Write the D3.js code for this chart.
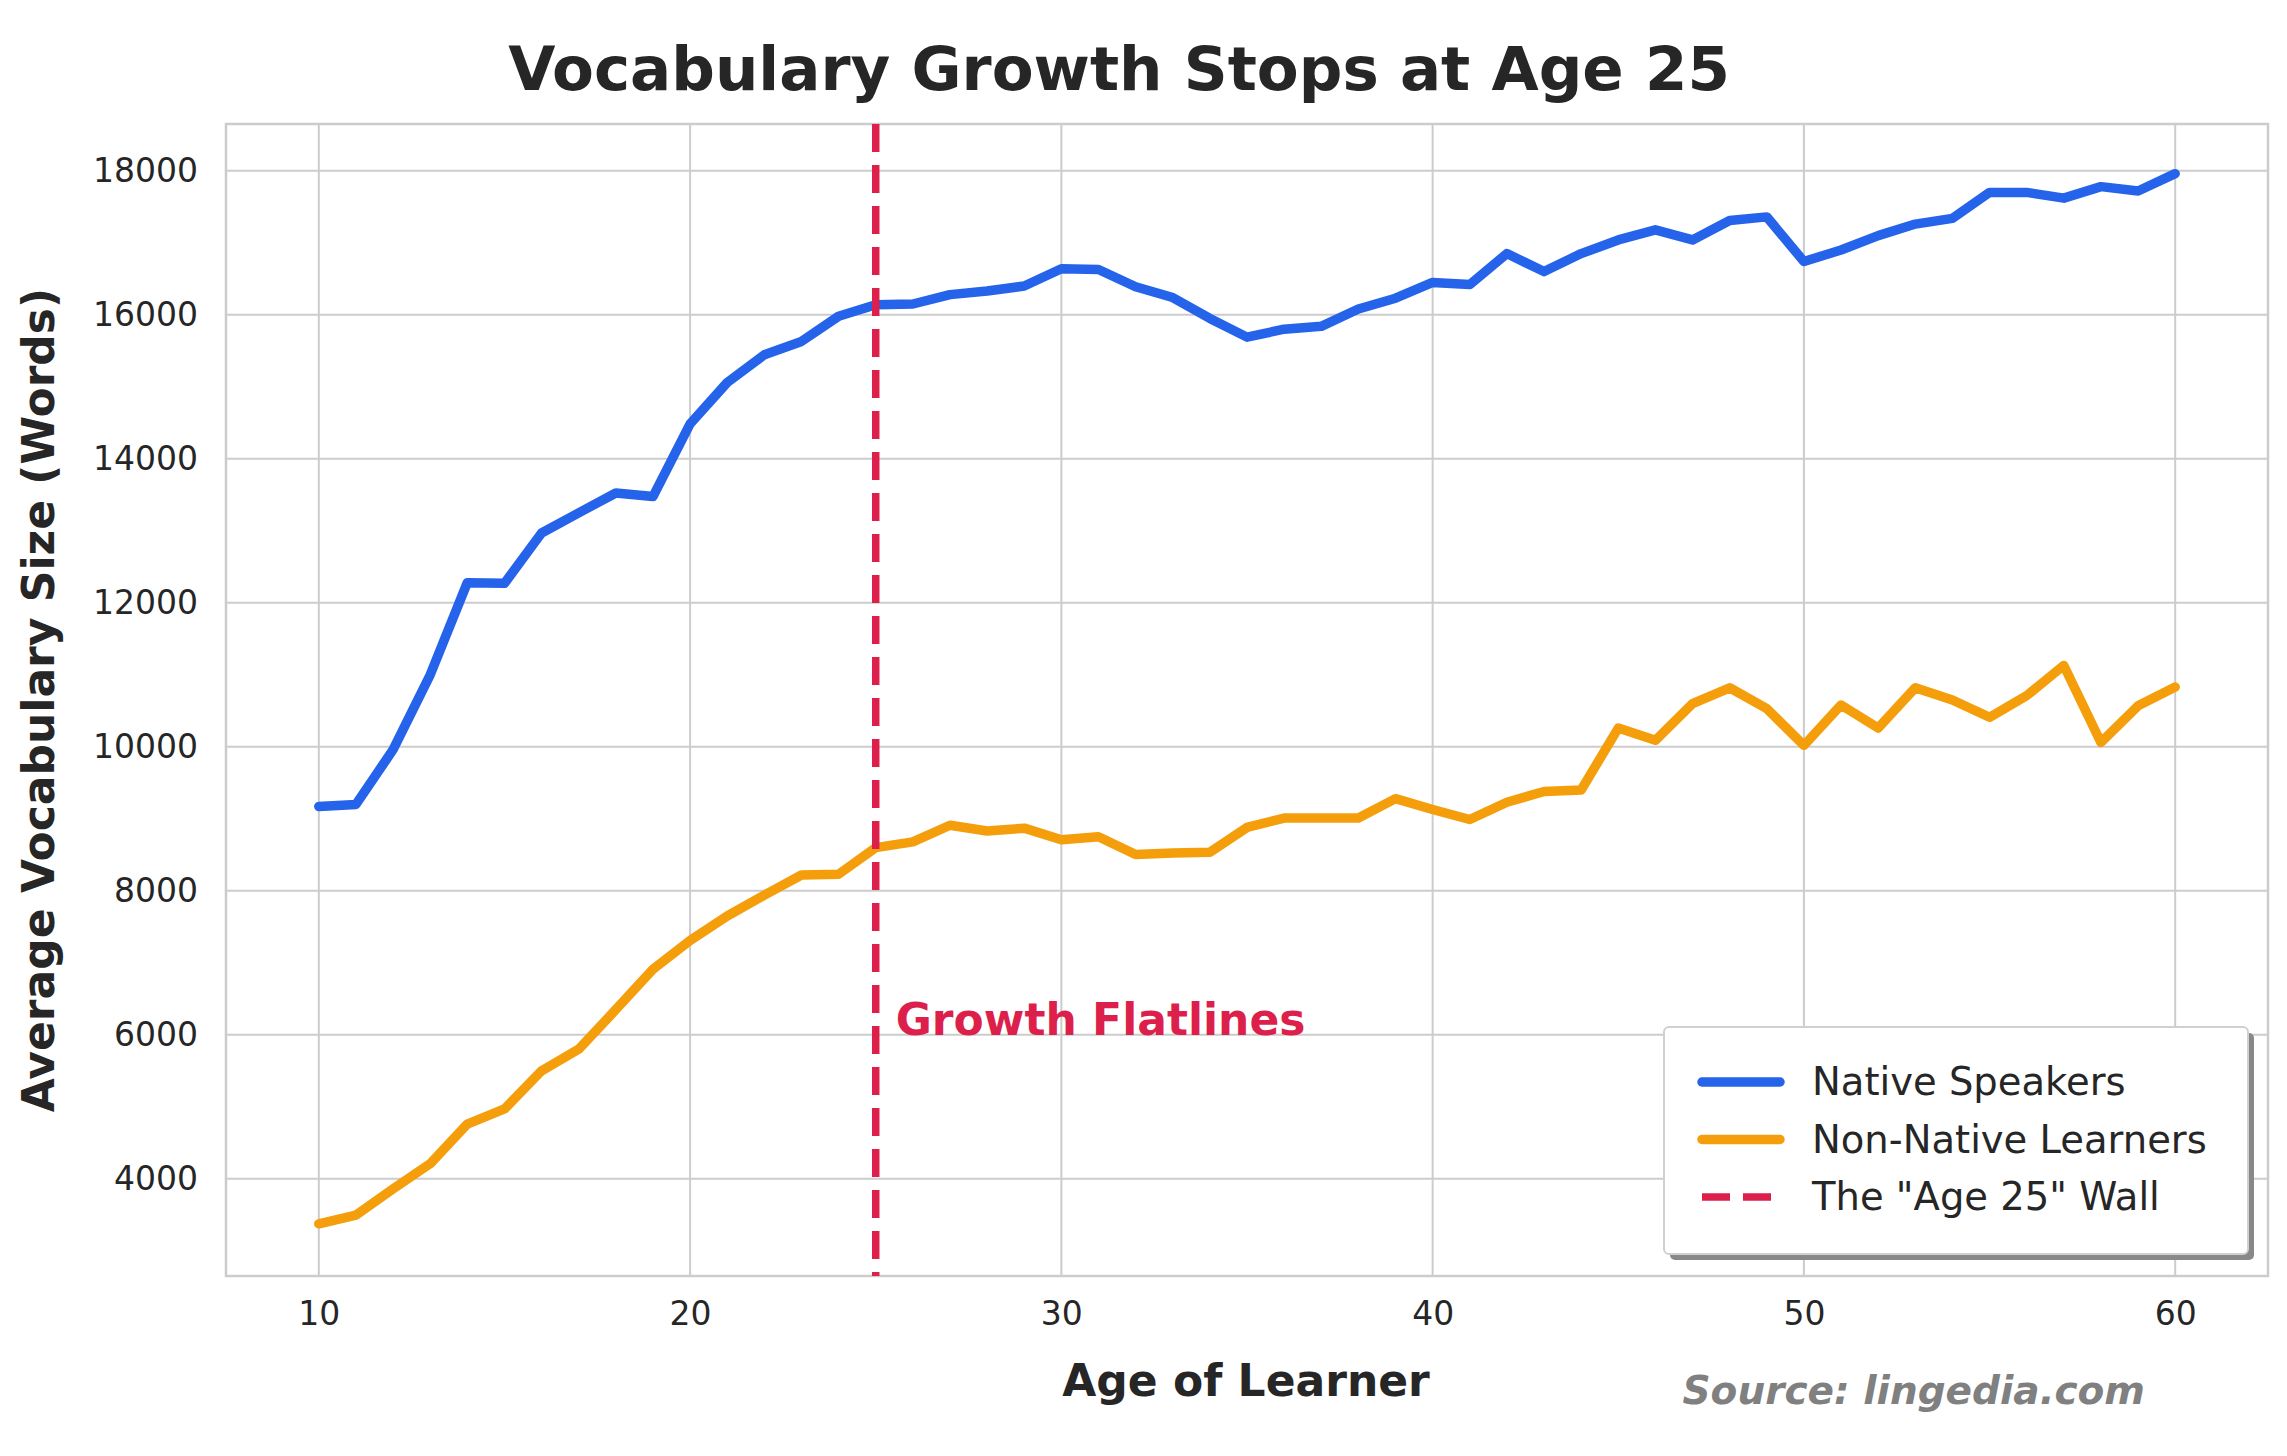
<!DOCTYPE html>
<html><head><meta charset="utf-8">
<script src="https://cdn.jsdelivr.net/npm/d3@7"></script>
<style>body{margin:0;background:#fff}svg{display:block}text{font-family:"DejaVu Sans",sans-serif;fill:#262626}</style>
</head><body><svg id="c" width="2287" height="1456"></svg>
<script>
const ages = d3.range(10, 61);
const native = [9172,9200,9960,11000,12280,12270,12970,13250,13525,13475,14485,15060,15445,15630,15980,16140,16150,16280,16330,16400,16640,16630,16390,16240,15950,15690,15800,15840,16080,16230,16450,16420,16850,16600,16850,17040,17180,17040,17310,17360,16740,16900,17100,17260,17340,17700,17700,17620,17780,17720,17960];
const nonNative = [3375,3495,3860,4210,4760,4970,5500,5800,6350,6910,7310,7650,7940,8220,8230,8600,8680,8910,8830,8870,8710,8750,8505,8525,8535,8880,9010,9010,9010,9280,9130,8990,9230,9380,9400,10260,10090,10600,10820,10530,10020,10580,10260,10820,10650,10410,10710,11130,10060,10570,10830];
const xTicks = [10,20,30,40,50,60];
const yTicks = [4000,6000,8000,10000,12000,14000,16000,18000];
const wallAge = 25;
const seriesNames = ["Native Speakers","Non-Native Learners",'The "Age 25" Wall'];
const colors = ["#2563eb","#f59e0b","#dc1f4b"];

const L=226,R=2268,T=124,B=1276;
const svg=d3.select("#c");
const x=d3.scaleLinear().domain([7.5,62.5]).range([L,R]);
const y=d3.scaleLinear().domain([2650,18650]).range([B,T]);
const g=svg.append("g");
g.selectAll(".gx").data(xTicks).join("line").attr("x1",d=>x(d)).attr("x2",d=>x(d)).attr("y1",T).attr("y2",B).attr("stroke","#cccccc").attr("stroke-width",2);
g.selectAll(".gy").data(yTicks).join("line").attr("y1",d=>y(d)).attr("y2",d=>y(d)).attr("x1",L).attr("x2",R).attr("stroke","#cccccc").attr("stroke-width",2);
g.append("rect").attr("x",L).attr("y",T).attr("width",R-L).attr("height",B-T).attr("fill","none").attr("stroke","#cccccc").attr("stroke-width",2.5);
const xa=svg.append("g").attr("transform",`translate(0,${B})`).call(d3.axisBottom(x).tickValues(xTicks).tickSize(0).tickPadding(26));
const ya=svg.append("g").attr("transform",`translate(${L},0)`).call(d3.axisLeft(y).tickValues(yTicks).tickSize(0).tickPadding(28).tickFormat(d3.format("d")));
[xa,ya].forEach(a=>{a.select(".domain").remove();a.selectAll("text").attr("font-size",33).attr("font-family","DejaVu Sans").attr("fill","#262626");});

const line=d3.line().x((d,i)=>x(ages[i])).y(d=>y(d));
svg.append("path").datum(native).attr("d",line).attr("fill","none").attr("stroke",colors[0]).attr("stroke-width",9.5).attr("stroke-linejoin","round").attr("stroke-linecap","round");
svg.append("path").datum(nonNative).attr("d",line).attr("fill","none").attr("stroke",colors[1]).attr("stroke-width",9.5).attr("stroke-linejoin","round").attr("stroke-linecap","round");
svg.append("line").attr("x1",x(wallAge)).attr("x2",x(wallAge)).attr("y1",T).attr("y2",B).attr("stroke",colors[2]).attr("stroke-width",7.5).attr("stroke-dasharray","28 13");
svg.append("text").attr("x",x(wallAge)+20).attr("y",y(6000)+0).attr("font-size",44).attr("font-weight","bold").style("fill",colors[2]).text("Growth Flatlines");

svg.append("text").attr("x",1119).attr("y",90).attr("text-anchor","middle").attr("font-size",61).attr("font-weight","bold").text("Vocabulary Growth Stops at Age 25");
svg.append("text").attr("x",1246).attr("y",1396).attr("text-anchor","middle").attr("font-size",44).attr("font-weight","bold").text("Age of Learner");
svg.append("text").attr("transform","translate(54,700) rotate(-90)").attr("text-anchor","middle").attr("font-size",44).attr("font-weight","bold").text("Average Vocabulary Size (Words)");
svg.append("text").attr("x",2145).attr("y",1404).attr("text-anchor","end").attr("font-size",39).attr("font-weight","bold").attr("font-style","italic").style("fill","#808080").text("Source: lingedia.com");

const lg=svg.append("g");
lg.append("rect").attr("x",1670).attr("y",1033).attr("width",584).attr("height",227).attr("rx",5).attr("fill","#888");
lg.append("rect").attr("x",1664).attr("y",1027).attr("width",584).attr("height",227).attr("rx",5).attr("fill","#fff").attr("stroke","#d0d0d0").attr("stroke-width",2);
seriesNames.forEach((n,i)=>{
  const yy=1082+i*57.5;
  lg.append("line").attr("x1",1702).attr("x2",1780).attr("y1",yy).attr("y2",yy).attr("stroke",colors[i]).attr("stroke-width",i==2?7.5:9.5).attr("stroke-linecap",i==2?"butt":"round").attr("stroke-dasharray",i==2?"28 13":null);
  lg.append("text").attr("x",1812).attr("y",yy+13).attr("font-size",38.5).text(n);
});
</script></body></html>
